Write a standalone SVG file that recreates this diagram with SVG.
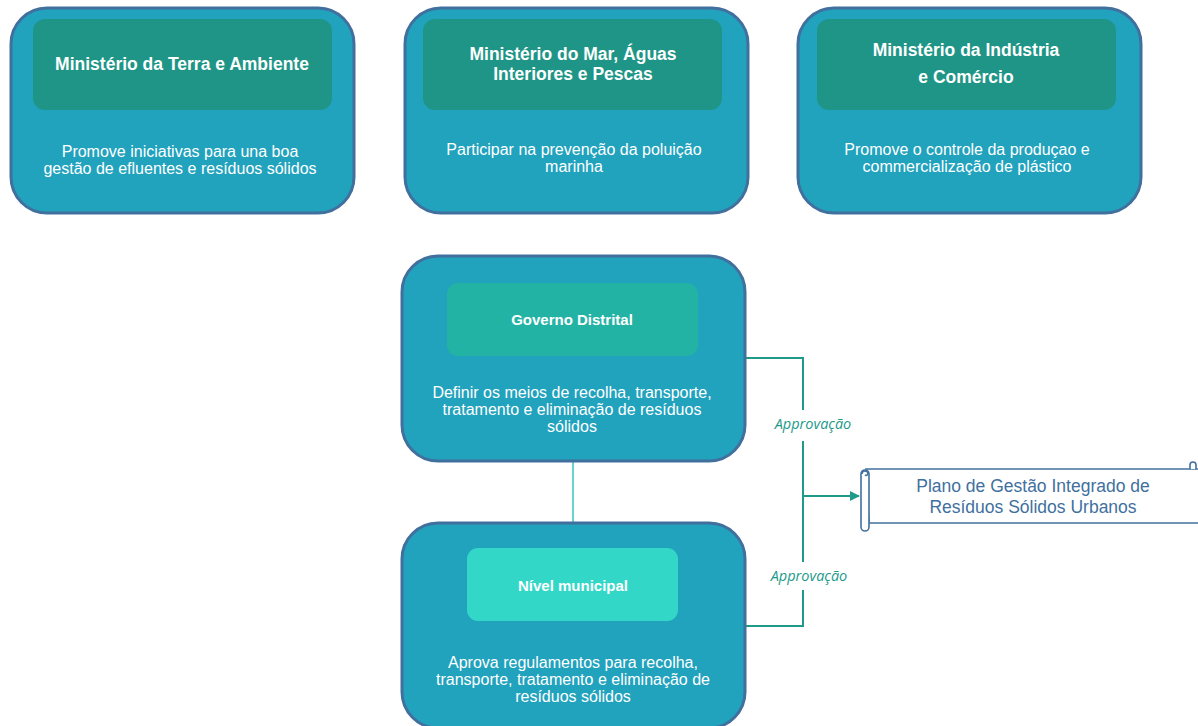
<svg xmlns="http://www.w3.org/2000/svg" width="1198" height="726" viewBox="0 0 1198 726">
<defs>
<marker id="arr" viewBox="0 0 10 10" refX="9" refY="5" markerWidth="10" markerHeight="10" markerUnits="userSpaceOnUse" orient="auto"><path d="M0,0 L10,5 L0,10 z" fill="#1E9A8A"/></marker>
</defs>
<style>
.outer{fill:#21A2BD;stroke:#41709E;stroke-width:3}
.innerD{fill:#1E9586}
.title{font-family:"Liberation Sans",Arial,sans-serif;font-weight:bold;fill:#fff;text-anchor:middle}
.body{font-family:"Liberation Sans",Arial,sans-serif;font-size:16px;fill:#fff;text-anchor:middle}
.conn{fill:none;stroke:#1E9A8A;stroke-width:2}
.lbl{font-family:"Open Sans","DejaVu Sans",sans-serif;font-style:italic;font-size:14.5px;fill:#1E9A8A;text-anchor:middle}
.scroll{fill:#fff;stroke:#41709E;stroke-width:1.6}
.stext{font-family:"Liberation Sans",Arial,sans-serif;font-size:17.5px;fill:#41709E;text-anchor:middle}
</style>
<rect width="1198" height="726" fill="#fff"/>
<g id="connectors">
<line x1="573" y1="461" x2="573" y2="523" stroke="#66D5CB" stroke-width="2"/>
<path class="conn" d="M745,358 H803 V410"/>
<path class="conn" d="M803,441 V562"/>
<path class="conn" d="M803,590 V626 H745"/>
<path class="conn" d="M803,496 H859" marker-end="url(#arr)"/>
<text class="lbl" x="813" y="429">Approvação</text>
<text class="lbl" x="809" y="581">Approvação</text>
</g>
<g id="n1">
<rect class="outer" x="11" y="8" width="343" height="205" rx="36"/>
<rect class="innerD" x="33" y="19" width="299" height="91" rx="12"/>
<text class="title" x="182" y="70" font-size="17.5">Ministério da Terra e Ambiente</text>
<text class="body" x="180" y="157">Promove iniciativas para una boa</text>
<text class="body" x="180" y="174">gestão de efluentes e resíduos sólidos</text>
</g>
<g id="n2">
<rect class="outer" x="405" y="8" width="343" height="205" rx="36"/>
<rect class="innerD" x="423" y="19" width="299" height="91" rx="12"/>
<text class="title" x="573" y="60" font-size="17.5">Ministério do Mar, Águas</text>
<text class="title" x="573" y="80" font-size="17.5">Interiores e Pescas</text>
<text class="body" x="574" y="155">Participar na prevenção da poluição</text>
<text class="body" x="574" y="172">marinha</text>
</g>
<g id="n3">
<rect class="outer" x="798" y="8" width="343" height="205" rx="36"/>
<rect class="innerD" x="817" y="19" width="299" height="91" rx="12"/>
<text class="title" x="966" y="56" font-size="17.5">Ministério da Indústria</text>
<text class="title" x="966" y="83" font-size="17.5">e Comércio</text>
<text class="body" x="967" y="155">Promove o controle da produçao e</text>
<text class="body" x="967" y="172">commercialização de plástico</text>
</g>
<g id="n4">
<rect class="outer" x="402" y="256" width="343" height="205" rx="36"/>
<rect x="447" y="283" width="251" height="73" rx="11" fill="#23B3A5"/>
<text class="title" x="572" y="325" font-size="15">Governo Distrital</text>
<text class="body" x="572" y="398">Definir os meios de recolha, transporte,</text>
<text class="body" x="572" y="415">tratamento e eliminação  de resíduos</text>
<text class="body" x="572" y="432">sólidos</text>
</g>
<g id="n5">
<rect class="outer" x="402" y="523" width="343" height="205" rx="36"/>
<rect x="467" y="548" width="211" height="73" rx="11" fill="#33D7C8"/>
<text class="title" x="573" y="591" font-size="15">Nível municipal</text>
<text class="body" x="573" y="668">Aprova regulamentos  para recolha,</text>
<text class="body" x="573" y="685">transporte, tratamento  e eliminação de</text>
<text class="body" x="573" y="702">resíduos sólidos</text>
</g>
<g id="n6">
<path class="scroll" d="M866,469 H1200 V523 H869 Z"/>
<path class="scroll" d="M1190,469 V465 a3,3 0 0 1 6,0 V469"/>
<rect class="scroll" x="861" y="470" width="8" height="61" rx="4"/>
<path class="scroll" d="M862,474 a3,3 0 1 1 6,0 a2,2 0 0 1 -3,1" fill="none"/>
<text class="stext" x="1033" y="492">Plano de Gestão Integrado de</text>
<text class="stext" x="1033" y="513">Resíduos Sólidos Urbanos</text>
</g>
</svg>
